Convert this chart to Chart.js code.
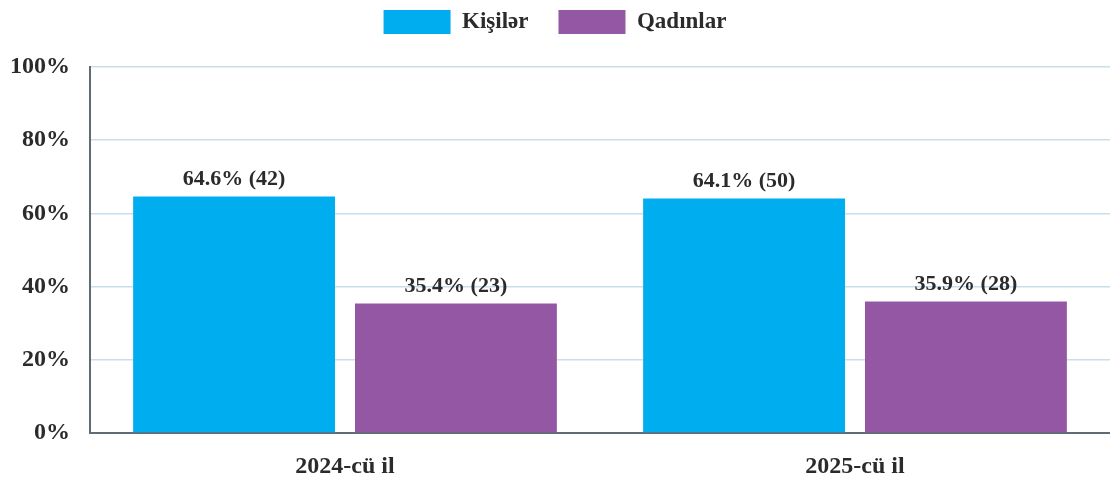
<!DOCTYPE html>
<html>
<head>
<meta charset="utf-8">
<script src="https://cdn.jsdelivr.net/npm/chart.js@4.4.0/dist/chart.umd.min.js"></script>
<style>
html,body{margin:0;padding:0;background:#fff;}
#wrap{width:1110px;height:480px;position:relative;}
</style>
</head>
<body>
<div id="wrap"><canvas id="c" width="1110" height="480"></canvas></div>
<script>
const categories = ["2024-cü il", "2025-cü il"];
const seriesNames = ["Kişilər", "Qadınlar"];
const menPct = [64.6, 64.1];
const womenPct = [35.4, 35.9];
const menCount = [42, 50];
const womenCount = [23, 28];
const yTicks = [0, 20, 40, 60, 80, 100];

const counts = [menCount, womenCount];
const FONT = '"Liberation Serif", "Times New Roman", serif';

const labelPlugin = {
  id: 'barLabels',
  afterInit(chart) {
    const lg = chart.legend;
    if (lg) {
      const f = lg.fit.bind(lg);
      lg.fit = function () { f(); this.height += 23; };
    }
  },
  afterDatasetsDraw(chart) {
    const ctx = chart.ctx;
    ctx.save();
    ctx.font = 'bold 22px ' + FONT;
    ctx.fillStyle = '#2b2b2b';
    ctx.textAlign = 'center';
    ctx.textBaseline = 'bottom';
    chart.data.datasets.forEach((ds, di) => {
      const meta = chart.getDatasetMeta(di);
      meta.data.forEach((bar, i) => {
        ctx.fillText(ds.data[i].toFixed(1) + '% (' + counts[di][i] + ')', bar.x, bar.y - 6);
      });
    });
    ctx.restore();
  }
};

new Chart(document.getElementById('c'), {
  type: 'bar',
  data: {
    labels: categories,
    datasets: [
      { label: seriesNames[0], data: menPct, backgroundColor: '#00AEEF', categoryPercentage: 0.87, barPercentage: 0.91 },
      { label: seriesNames[1], data: womenPct, backgroundColor: '#9457A3', categoryPercentage: 0.87, barPercentage: 0.91 }
    ]
  },
  options: {
    responsive: false,
    animation: false,
    layout: { padding: { left: 0, right: 0, top: -20, bottom: 2 } },
    plugins: {
      legend: {
        position: 'top',
        labels: {
          boxWidth: 67,
          boxHeight: 24,
          padding: 30,
          color: '#2b2b2b',
          font: { family: FONT, size: 23, weight: 'bold' }
        }
      },
      tooltip: { enabled: false }
    },
    scales: {
      x: {
        afterFit(axis) { axis.height = 45; },
        grid: { display: false },
        border: { color: '#5f6b75', width: 2 },
        ticks: { color: '#2b2b2b', padding: 11, font: { family: FONT, size: 24, weight: 'bold' } }
      },
      y: {
        min: 0, max: 100,
        afterBuildTicks(axis) { axis.ticks = yTicks.map(v => ({ value: v })); },
        afterFit(axis) { axis.width = 90; },
        grid: { color: '#c9deec', lineWidth: 1.5, drawTicks: false },
        border: { color: '#5f6b75', width: 2 },
        ticks: {
          color: '#2b2b2b', padding: 20,
          font: { family: FONT, size: 24, weight: 'bold' },
          callback: v => v + '%'
        }
      }
    }
  },
  plugins: [labelPlugin]
});
</script>
</body>
</html>
